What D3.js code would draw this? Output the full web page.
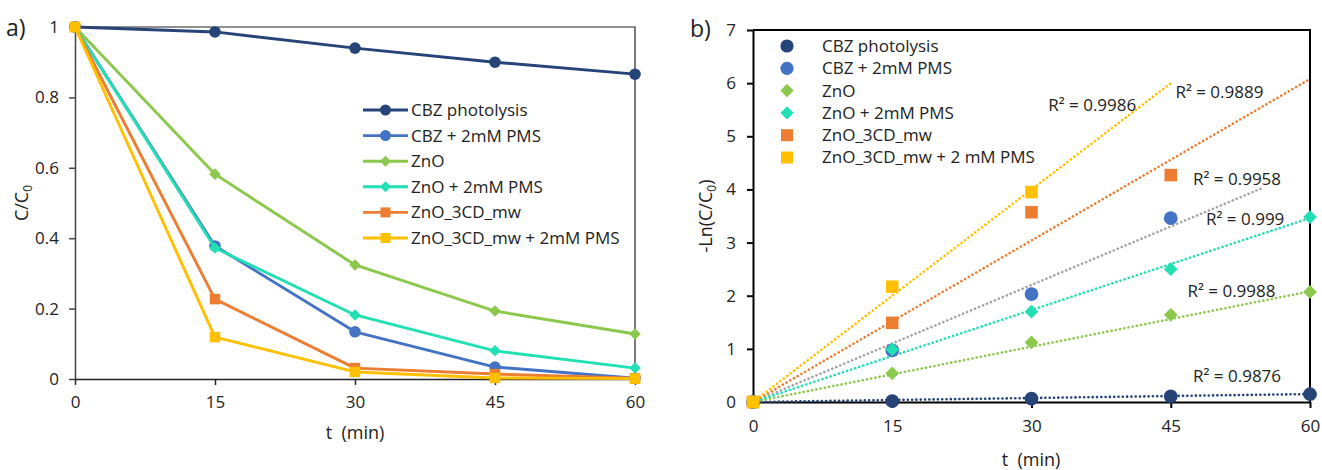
<!DOCTYPE html>
<html>
<head>
<meta charset="utf-8">
<script src="https://d3js.org/d3.v7.min.js"></script>
<style>
  * { margin:0; padding:0; }
  body { background:#fff; width:1322px; height:470px; overflow:hidden; font-family:'Open Sans',sans-serif; }
  svg text { fill:#222; }
</style>
</head>
<body>
<svg id="chart" width="1322" height="470"></svg>
<script>
// ── Data ────────────────────────────────────────────────────────────────────
const times   = [0, 15, 30, 45, 60];
const seriesNames = ["CBZ photolysis", "CBZ + 2mM PMS", "ZnO", "ZnO + 2mM PMS", "ZnO_3CD_mw", "ZnO_3CD_mw + 2mM PMS"];
const legendNamesB = ["CBZ photolysis", "CBZ + 2mM PMS", "ZnO", "ZnO + 2mM PMS", "ZnO_3CD_mw", "ZnO_3CD_mw + 2 mM PMS"];
const colors  = ["#264478", "#4472C4", "#8CC84B", "#22E0B4", "#ED7D31", "#FFC000"];
const shapes  = ["circle", "circle", "diamond", "diamond", "square", "square"];

// panel a: C/C0
const cbzPhotolysis = [1, 0.986, 0.940, 0.900, 0.866];
const cbzPms        = [1, 0.378, 0.134, 0.034, 0.002];
const znO           = [1, 0.582, 0.324, 0.193, 0.128];
const znOPms        = [1, 0.372, 0.182, 0.080, 0.031];
const znO3cd        = [1, 0.227, 0.031, 0.014, 0.002];
const znO3cdPms     = [1, 0.119, 0.020, 0.003, 0.001];
const ratioSeries = [cbzPhotolysis, cbzPms, znO, znOPms, znO3cd, znO3cdPms];

// panel b: -Ln(C/C0) (null = not plotted)
const lnCbzPhotolysis = [0, 0.015, 0.062, 0.105, 0.146];
const lnCbzPms        = [0, 0.97, 2.03, 3.46, null];
const lnZnO           = [0, 0.54, 1.12, 1.64, 2.07];
const lnZnOPms        = [0, 0.99, 1.70, 2.50, 3.48];
const lnZnO3cd        = [0, 1.49, 3.57, 4.27, null];
const lnZnO3cdPms     = [0, 2.17, 3.95, null, null];
const lnSeries = [lnCbzPhotolysis, lnCbzPms, lnZnO, lnZnOPms, lnZnO3cd, lnZnO3cdPms];

// linear trendlines through origin (slope, last x)
const trendSlopes = [0.0025, 0.0734, 0.0347, 0.0577, 0.1013, 0.1333];
const trendEndX   = [60, 55, 60, 60, 60, 45];
const trendColors = ["#264478", "#A5A5A5", "#8CC84B", "#22E0B4", "#ED7D31", "#FFC000"];
const r2Labels = ["R² = 0.9876", "R² = 0.9958", "R² = 0.9988", "R² = 0.999", "R² = 0.9889", "R² = 0.9986"];
const r2X      = [47.4, 47.4, 46.8, 48.8, 45.5, 31.8];
const r2Y      = [0.49, 4.2, 2.09, 3.45, 5.84, 5.59];

const ticksA = [0, 0.2, 0.4, 0.6, 0.8, 1];
const ticksB = [0, 1, 2, 3, 4, 5, 6, 7];

// ── Helpers ────────────────────────────────────────────────────────────────
const svg = d3.select("#chart");
const FONT = 17;

function marker(g, shape, x, y, color, s) {
  if (shape === "circle") {
    g.append("circle").attr("cx", x).attr("cy", y).attr("r", s * 0.55).attr("fill", color);
  } else if (shape === "square") {
    g.append("rect").attr("x", x - s / 2).attr("y", y - s / 2).attr("width", s).attr("height", s).attr("fill", color);
  } else {
    const h = s * 0.55;
    g.append("path").attr("d", `M${x},${y - h}L${x + h},${y}L${x},${y + h}L${x - h},${y}Z`).attr("fill", color);
  }
}

function styleAxis(g, color, width) {
  g.select(".domain").attr("stroke", color).attr("stroke-width", width);
  g.selectAll(".tick line").attr("stroke", color).attr("stroke-width", width);
  g.selectAll(".tick text").attr("font-size", FONT).attr("font-family", "'Open Sans',sans-serif").attr("fill", "#222");
}

// ── Panel a ────────────────────────────────────────────────────────────────
(function panelA() {
  const x = d3.scaleLinear().domain([0, 60]).range([75, 635]);
  const y = d3.scaleLinear().domain([0, 1]).range([379, 27]);
  const g = svg.append("g");

  // plot box (top + right)
  g.append("path").attr("d", `M${x(0)},${y(1)}H${x(60)}V${y(0)}`).attr("fill", "none").attr("stroke", "#222").attr("stroke-width", 1.2);

  const ay = g.append("g").attr("transform", `translate(${x(0)},0)`)
    .call(d3.axisLeft(y).tickValues(ticksA).tickSize(6).tickSizeOuter(0).tickPadding(10).tickFormat(d3.format("~g")));
  styleAxis(ay, "#444", 1.5);
  const ax = g.append("g").attr("transform", `translate(0,${y(0)})`)
    .call(d3.axisBottom(x).tickValues(times).tickSize(6).tickSizeOuter(0).tickPadding(11));
  styleAxis(ax, "#222", 1.5);

  const line = d3.line().x((d, i) => x(times[i])).y(d => y(d));
  ratioSeries.forEach((vals, k) => {
    const sg = g.append("g");
    sg.append("path").attr("d", line(vals)).attr("fill", "none").attr("stroke", colors[k]).attr("stroke-width", 2.9).attr("stroke-linejoin", "round");
    vals.forEach((v, i) => marker(sg, shapes[k], x(times[i]), y(v), colors[k], 10.5));
  });

  // legend
  const lg = g.append("g");
  seriesNames.forEach((n, k) => {
    const yy = 110 + k * 25.6;
    lg.append("line").attr("x1", 363).attr("x2", 408).attr("y1", yy).attr("y2", yy).attr("stroke", colors[k]).attr("stroke-width", 2.9);
    marker(lg, shapes[k], 385.5, yy, colors[k], 10);
    lg.append("text").attr("x", 411).attr("y", yy).attr("dy", "0.35em").attr("font-size", FONT).text(n);
  });

  g.append("text").attr("x", 355).attr("y", 439).attr("text-anchor", "middle").attr("font-size", 18)
    .attr("xml:space", "preserve").text("t  (min)");
  const yl = g.append("text").attr("transform", "translate(28,203) rotate(-90)").attr("text-anchor", "middle").attr("font-size", 18);
  yl.append("tspan").text("C/C");
  yl.append("tspan").attr("font-size", 12).attr("dy", 4).text("0");
  g.append("text").attr("x", 6).attr("y", 36).attr("font-size", 23).text("a)");
})();

// ── Panel b ────────────────────────────────────────────────────────────────
(function panelB() {
  const x = d3.scaleLinear().domain([0, 60]).range([753, 1310]);
  const y = d3.scaleLinear().domain([0, 7]).range([402, 30]);
  const g = svg.append("g");

  g.append("path").attr("d", `M${x(0)},${y(7)}H${x(60)}V${y(0)}`).attr("fill", "none").attr("stroke", "#000").attr("stroke-width", 2);

  const ay = g.append("g").attr("transform", `translate(${x(0)},0)`)
    .call(d3.axisLeft(y).tickValues(ticksB).tickSize(6).tickSizeOuter(0).tickPadding(11).tickFormat(d3.format("d")));
  styleAxis(ay, "#000", 2);
  const ax = g.append("g").attr("transform", `translate(0,${y(0)})`)
    .call(d3.axisBottom(x).tickValues(times).tickSize(6).tickSizeOuter(0).tickPadding(12));
  styleAxis(ax, "#000", 2);

  // trendlines
  trendSlopes.forEach((m, k) => {
    g.append("line").attr("x1", x(0)).attr("y1", y(0)).attr("x2", x(trendEndX[k])).attr("y2", y(m * trendEndX[k]))
      .attr("stroke", trendColors[k]).attr("stroke-width", 2.6).attr("stroke-linecap", "round").attr("stroke-dasharray", "0.1 4.2");
  });

  // points
  lnSeries.forEach((vals, k) => {
    vals.forEach((v, i) => { if (v != null) marker(g, shapes[k], x(times[i]), y(v), colors[k], 12.5); });
  });

  // R² labels
  r2Labels.forEach((t, k) => {
    g.append("text").attr("x", x(r2X[k])).attr("y", y(r2Y[k])).attr("dy", "0.35em").attr("font-size", FONT).text(t);
  });

  // legend
  legendNamesB.forEach((n, k) => {
    const yy = 46 + k * 22.3;
    marker(g, shapes[k], 787, yy, colors[k], 12);
    g.append("text").attr("x", 822).attr("y", yy).attr("dy", "0.35em").attr("font-size", FONT).text(n);
  });

  g.append("text").attr("x", 1031).attr("y", 466).attr("text-anchor", "middle").attr("font-size", 18)
    .attr("xml:space", "preserve").text("t  (min)");
  const yl = g.append("text").attr("transform", "translate(712,216) rotate(-90)").attr("text-anchor", "middle").attr("font-size", 18);
  yl.append("tspan").text("-Ln(C/C");
  yl.append("tspan").attr("font-size", 12).attr("dy", 4).text("0");
  yl.append("tspan").attr("dy", -4).text(")");
  g.append("text").attr("x", 690).attr("y", 37).attr("font-size", 23).text("b)");
})();
</script>
</body>
</html>
